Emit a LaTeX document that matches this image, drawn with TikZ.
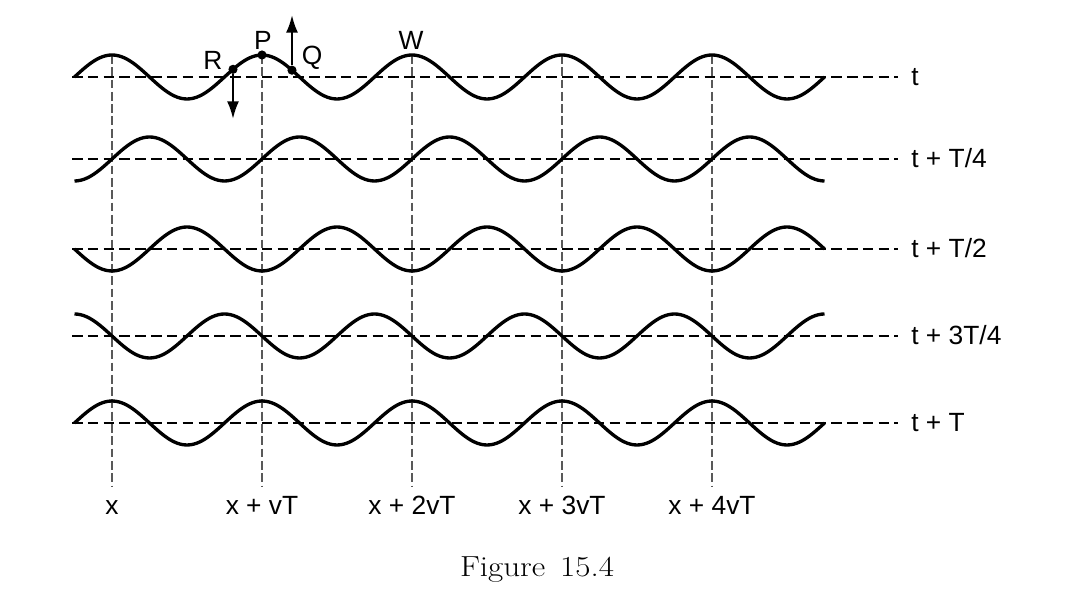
\documentclass[tikz,border=0pt]{standalone}
\usepackage{fontspec}
\setsansfont{Liberation Sans}
\usetikzlibrary{arrows.meta,positioning,calc}

\begin{document}
\begin{tikzpicture}[
  wave/.style={line width=1.9pt,line join=round},
  axis/.style={line width=1.4pt,dash pattern=on 6pt off 3pt},
  guide/.style={line width=0.7pt,black!65,dash pattern=on 5pt off 2pt},
  dot/.style={circle,fill=black,inner sep=0pt,minimum size=5.2pt},
  lab/.style={font=\sffamily\fontsize{15}{18}\selectfont,inner sep=0pt},
  motion/.style={line width=1.3pt,-{Latex[length=10pt,width=6.8pt]}}
]
\useasboundingbox (0,0) rectangle (21.6,12.02);

% the positions x, x + vT, ...
\foreach \i/\txt in {0/x,1/{x + vT},2/{x + 2vT},3/{x + 3vT},4/{x + 4vT}} {
  \coordinate (g\i) at ({2.24+3*\i},10.92);
  \coordinate (h\i) at ({2.24+3*\i},2.28);
  \draw[guide] (g\i) -- (h\i);
  \node[lab,anchor=base] (x\i) at ([yshift=-0.56cm]h\i) {\txt};
}

% the snapshots
\foreach \k/\y/\txt in {0/10.48/t,1/8.84/{t + T/4},2/7.04/{t + T/2},3/5.30/{t + 3T/4},4/3.56/{t + T}} {
  \coordinate (a\k) at (1.44,\y);
  \coordinate (b\k) at (17.96,\y);
  \draw[axis] (a\k) -- (b\k);
  \draw[wave] plot[domain=1.49:16.49,samples=241,smooth]
    (\x,{\y+0.44*cos(120*(\x-2.24)-90*\k)});
  \node[lab,anchor=base west] (r\k) at ([xshift=0.26cm,yshift=-0.18cm]b\k) {\txt};
}

% the particles
\node[dot] (R) at (4.66,{10.48+0.44*cos(120*(4.66-2.24))}) {};
\node[dot] (P) at (g1) {};
\node[dot] (Q) at (5.84,{10.48+0.44*cos(120*(5.84-2.24))}) {};
\coordinate (Rend) at (4.66,9.64);
\coordinate (Qend) at (5.84,11.72);
\draw[motion] (R) -- (Rend);
\draw[motion] (Q) -- (Qend);

\node[lab] (Rlab) at (4.26,10.82) {R};
\node[lab] (Plab) at (5.26,11.22) {P};
\node[lab] (Qlab) at (6.24,10.86) {Q};
\node[lab] (Wlab) at (8.22,11.22) {W};

\node[font=\fontsize{16.5}{19}\selectfont,xscale=1.14,inner sep=0pt] (cap) at (10.74,0.62) {Figure\hspace{0.45em}15.4};
\end{tikzpicture}
\end{document}
